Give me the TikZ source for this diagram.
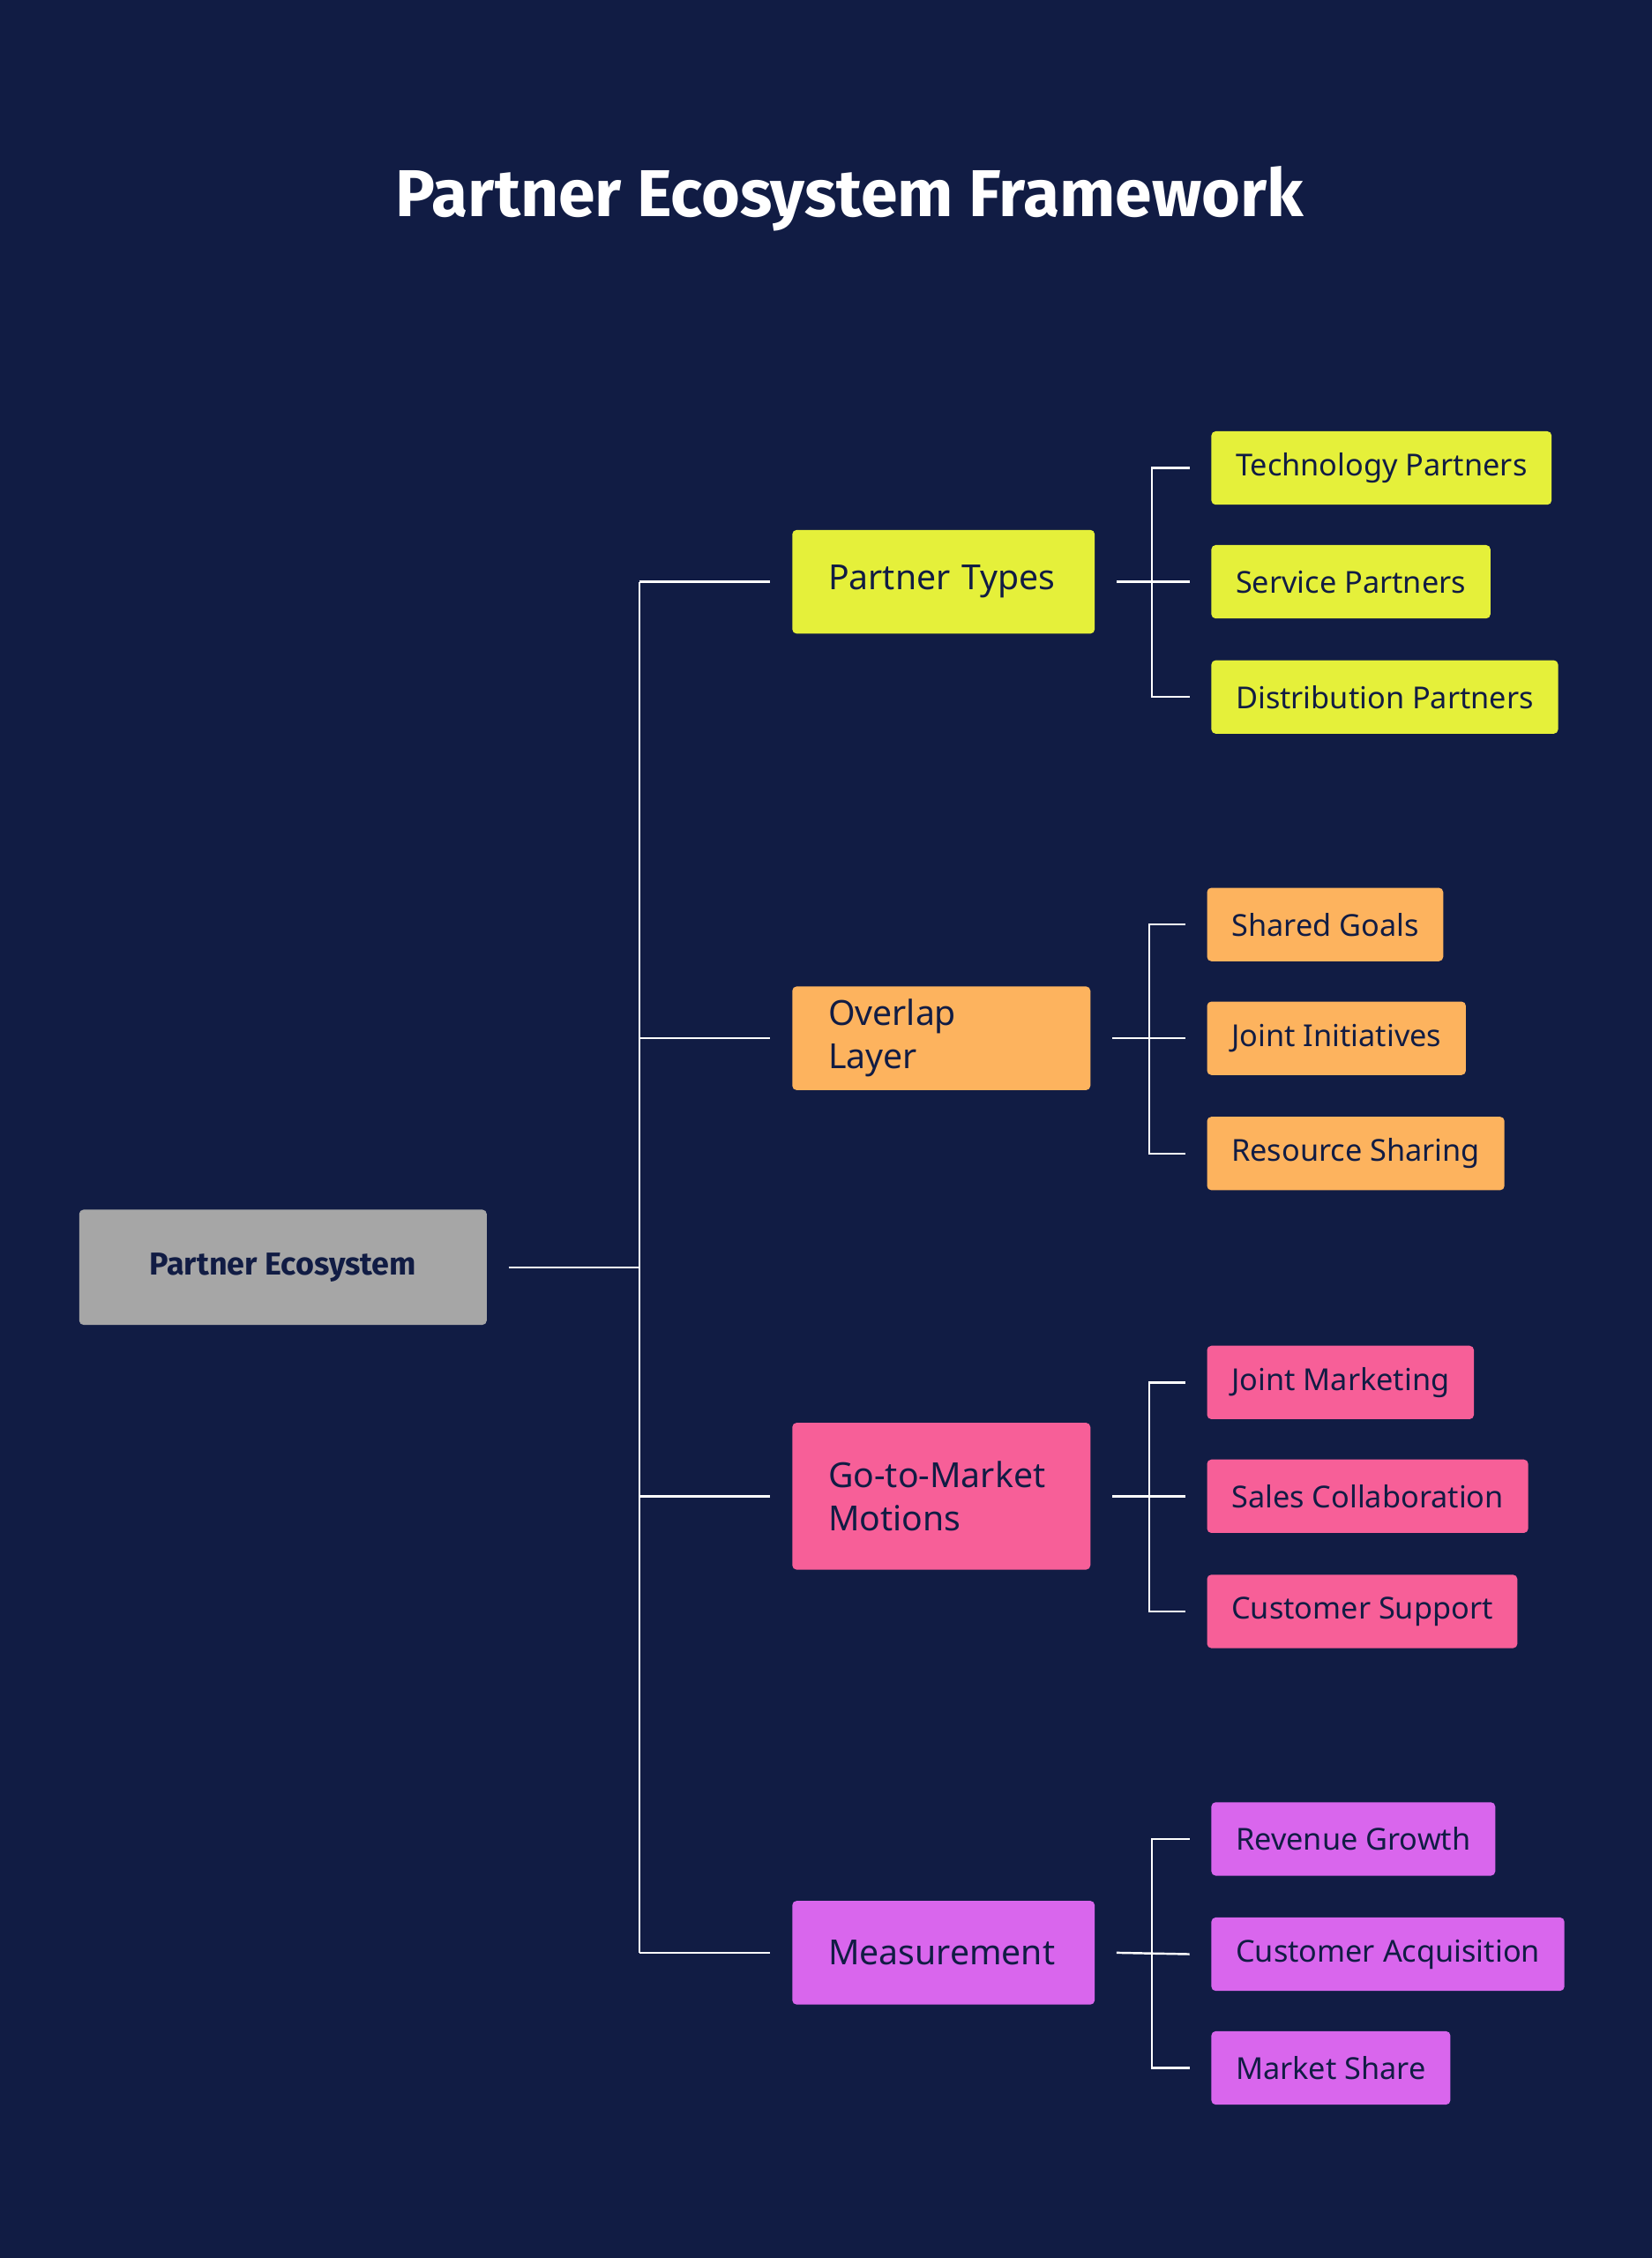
\documentclass[tikz,border=0pt]{standalone}
\usepackage{fontspec}
\setmainfont{Roboto}[UprightFont={Liberation Sans}]
\setmainfont{Noto Sans}
\newfontfamily\titlefont{Fira Sans}
\usetikzlibrary{calc}
\definecolor{bg}{HTML}{111C44}
\definecolor{cy}{HTML}{E5F03A}
\definecolor{co}{HTML}{FDB35E}
\definecolor{cp}{HTML}{F75F98}
\definecolor{cv}{HTML}{D966ED}
\definecolor{cg}{HTML}{A6A6A6}
\begin{document}
\begin{tikzpicture}[x=1pt,y=-1pt,
  mid/.style={fill=#1,rounded corners=3pt,anchor=west,minimum height=72pt,text width=160pt,inner xsep=25pt,align=left,font=\fontsize{24}{30}\selectfont,text=bg},
  leaf/.style={fill=#1,rounded corners=3pt,anchor=west,minimum height=51pt,inner xsep=17pt,font=\fontsize{21}{25}\selectfont,text=bg},
  ln/.style={draw=white,line width=1.5pt}]
\fill[bg] (0,0) rectangle (1147,1568);
\useasboundingbox (0,0) rectangle (1147,1568);
\node[font=\titlefont\bfseries\fontsize{46}{50}\selectfont,text=white] (title) at (590,138) {Partner Ecosystem Framework};
\node[fill=cg,rounded corners=3pt,minimum width=283pt,minimum height=80pt,font=\titlefont\bfseries\fontsize{22}{26}\selectfont,text=bg] (root) at (196.5,880) {Partner Ecosystem};
\coordinate (trunk) at (444,880);
\draw[ln] ($(root.east)+(15,0)$) -- (trunk);
% mid nodes
\node[mid=cy] (m1) at (550,404) {Partner Types};
\node[mid=co,text width=157pt] (m2) at (550,721) {Overlap Layer};
\node[mid=cp,text width=157pt,minimum height=102pt] (m3) at (550,1039) {Go-to-Market\\Motions};
\node[mid=cv] (m4) at (550,1356) {Measurement};
\draw[ln] (444,404) -- (444,1356);
\foreach \m in {m1,m2,m3,m4} \draw[ln] (444,0 |- \m.west) -- ($(\m.west)+(-15,0)$);
% leaves
\node[leaf=cy] (a1) at (841,325) {Technology Partners};
\node[leaf=cy] (a2) at (841,404) {Service Partners};
\node[leaf=cy] (a3) at (841,484) {Distribution Partners};
\node[leaf=co] (b1) at (838,642) {Shared Goals};
\node[leaf=co] (b2) at (838,721) {Joint Initiatives};
\node[leaf=co] (b3) at (838,801) {Resource Sharing};
\node[leaf=cp] (c1) at (838,960) {Joint Marketing};
\node[leaf=cp] (c2) at (838,1039) {Sales Collaboration};
\node[leaf=cp] (c3) at (838,1119) {Customer Support};
\node[leaf=cv] (d1) at (841,1277) {Revenue Growth};
\node[leaf=cv] (d2) at (841,1357) {Customer Acquisition};
\node[leaf=cv] (d3) at (841,1436) {Market Share};
\foreach \m/\x/\l in {m1/800/a,m2/798/b,m3/798/c,m4/800/d}{
  \draw[ln] ($(\m.east)+(15,0)$) -- ($(\l2.west)+(-15,0)$);
  \draw[ln] ($(\l1.west)+(-15,0)$) -- (\x,0 |- \l1.west) -- (\x,0 |- \l3.west) -- ($(\l3.west)+(-15,0)$);
}
\end{tikzpicture}
\end{document}
